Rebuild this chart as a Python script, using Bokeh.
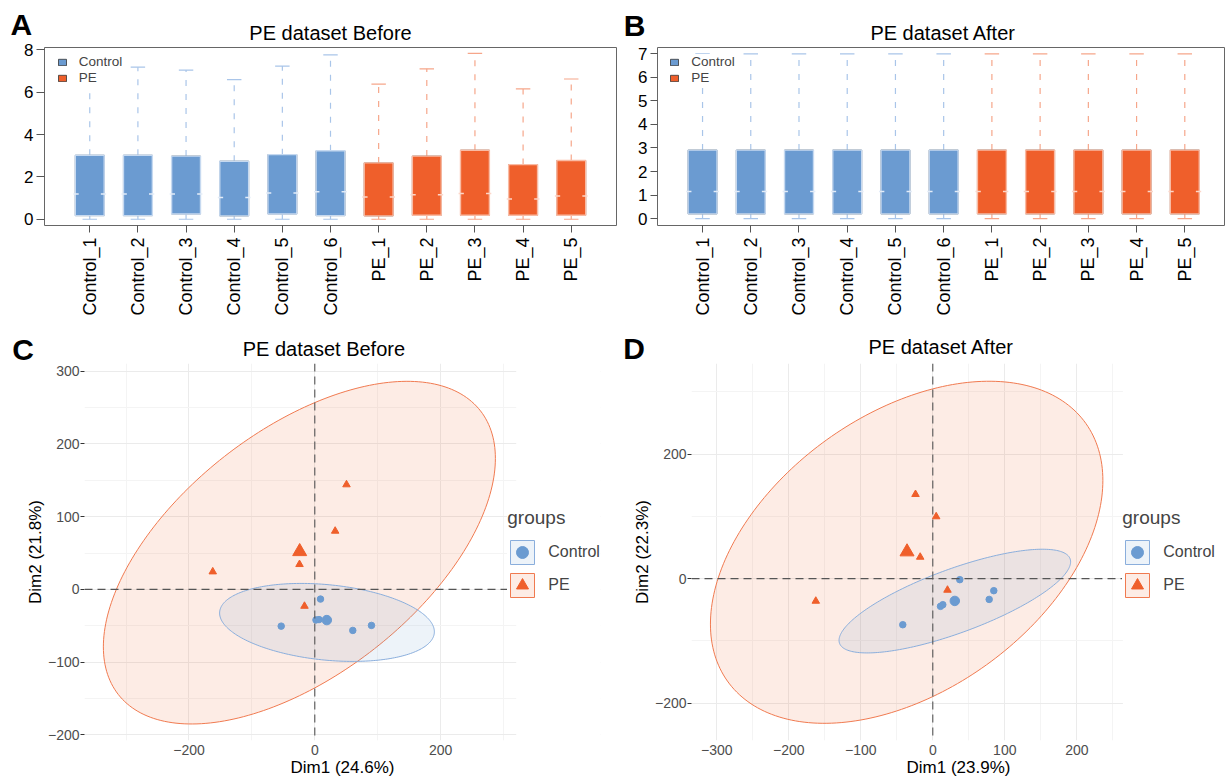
import numpy as np
from bokeh.plotting import figure
from bokeh.models import (Range1d, FixedTicker, Legend, LegendItem,
                          ColumnDataSource, Span, BoxAnnotation)
from bokeh.core.properties import value
from bokeh.layouts import column, row
from bokeh.embed import file_html
from bokeh.resources import INLINE

FONT = "Liberation Sans"
BLUE = "#6b9bd1"
ORANGE = "#ef5f2b"
BLUE_LINE = "#c6d9f0"
ORANGE_LINE = "#f9bba4"
BLUE_WHISK = "#a9c5e9"
ORANGE_WHISK = "#f6a68a"
BLUE_MED = "#e3ecf8"
ORANGE_MED = "#fcd6c8"

# ---------------- data ----------------
samples = ["Control_1", "Control_2", "Control_3", "Control_4", "Control_5", "Control_6",
           "PE_1", "PE_2", "PE_3", "PE_4", "PE_5"]
sample_groups = ["Control"] * 6 + ["PE"] * 5

before_lower = [0.0, 0.0, 0.0, 0.0, 0.0, 0.0, 0.0, 0.0, 0.0, 0.0, 0.0]
before_q1 = [0.17, 0.17, 0.25, 0.16, 0.25, 0.17, 0.16, 0.19, 0.19, 0.19, 0.19]
before_median = [1.19, 1.19, 1.19, 1.03, 1.24, 1.30, 1.05, 1.16, 1.22, 0.96, 1.10]
before_q3 = [3.02, 3.02, 2.98, 2.74, 3.05, 3.23, 2.66, 2.98, 3.26, 2.58, 2.77]
before_upper = [7.0, 7.18, 7.04, 6.59, 7.23, 7.76, 6.38, 7.10, 7.83, 6.15, 6.62]

after_lower = [0.0] * 11
after_q1 = [0.20] * 11
after_median = [1.15] * 11
after_q3 = [2.91] * 11
after_upper = [7.0] * 11

# PCA before
before_ctrl_x = [9.1, 1.9, 6.7, -53.4, 60.4, 90.1]
before_ctrl_y = [-13.3, -42.0, -41.5, -50.5, -56.4, -49.5]
before_pe_x = [50.4, 32.4, -24.3, -162.2, -16.4]
before_pe_y = [144.0, 80.2, 34.4, 24.3, -23.0]
# ellipse params: centre x, centre y, half extent x, half extent y, correlation
before_ctrl_ell = [19.4, -45.4, 170.7, 53.6, -0.24]
before_pe_ell = [-24.5, 50.5, 311.6, 235.5, 0.55]

# PCA after
after_ctrl_x = [37.5, 84.7, 78.3, 10.7, 13.9, -41.7]
after_ctrl_y = [-1.6, -19.3, -33.3, -44.5, -41.8, -74.0]
after_pe_x = [-24.0, 4.7, -17.5, -162.5, 20.4]
after_pe_y = [135.5, 99.7, 34.7, -36.0, -18.3]
after_ctrl_ell = [30.6, -36.0, 160.8, 83.3, 0.757]
after_pe_ell = [-36.3, 42.4, 272.5, 274.8, 0.42]

before_dims = ["Dim1 (24.6%)", "Dim2 (21.8%)"]
after_dims = ["Dim1 (23.9%)", "Dim2 (22.3%)"]
panel_letters = ["A", "B", "C", "D"]
panel_titles = ["PE dataset Before", "PE dataset After",
                "PE dataset Before", "PE dataset After"]

MID = 0.3465  # distance (in em) between text middle and alphabetic baseline


def header(width, height, letter, letter_pos, title, title_pos):
    """letter_pos / title_pos: (x, baseline height above the strip bottom) in px."""
    h = figure(width=width, height=height, x_range=Range1d(0, width),
               y_range=Range1d(0, height), min_border=0, x_axis_location=None,
               y_axis_location=None, title_location=None, output_backend="svg",
               toolbar_location=None)
    h.xgrid.visible = False
    h.ygrid.visible = False
    h.outline_line_color = None
    h.border_fill_alpha = 0.0
    h.background_fill_alpha = 0.0
    h.text(x=[letter_pos[0]], y=[letter_pos[1] + MID * 30], text=[letter],
           text_font=value(FONT), text_font_size="30px", text_font_style="bold",
           text_align="left", text_baseline="middle", text_color="black")
    h.text(x=[title_pos[0]], y=[title_pos[1] + MID * 20], text=[title],
           text_font=value(FONT), text_font_size="20px",
           text_align="center", text_baseline="middle", text_color="black")
    return h


def box_panel(width, height, xr, yr, borders, yticks, lower, q1, med, q3, upper,
              legend_pos, tick_out_y):
    bl, br, bt, bb = borders
    p = figure(width=width, height=height, x_range=Range1d(*xr), y_range=Range1d(*yr),
               min_border_left=bl, min_border_right=br, min_border_top=bt,
               min_border_bottom=bb, title_location=None, output_backend="svg",
               toolbar_location=None)
    p.xgrid.visible = False
    p.ygrid.visible = False
    p.outline_line_color = "#666666"
    p.outline_line_width = 1
    p.background_fill_color = "white"

    n = len(samples)
    xs = np.arange(1, n + 1, dtype=float)
    bw = 0.6
    cw = 0.3
    legend_items = []
    for g, fill, line, whisk, medc in [("Control", BLUE, BLUE_LINE, BLUE_WHISK, BLUE_MED),
                                        ("PE", ORANGE, ORANGE_LINE, ORANGE_WHISK, ORANGE_MED)]:
        idx = [i for i, s in enumerate(sample_groups) if s == g]
        gx = xs[idx]
        src = ColumnDataSource(dict(
            x=gx, lower=[lower[i] for i in idx], q1=[q1[i] for i in idx],
            med=[med[i] for i in idx], q3=[q3[i] for i in idx],
            upper=[upper[i] for i in idx],
            cap0=gx - cw / 2, cap1=gx + cw / 2,
            ml0=gx - bw / 2 - 0.04, ml1=gx - bw / 2 + 0.07,
            mr0=gx + bw / 2 - 0.07, mr1=gx + bw / 2 + 0.04,
        ))
        p.segment(x0="x", y0="q3", x1="x", y1="upper", source=src, line_color=whisk,
                  line_dash="6 8", line_width=1.2)
        p.segment(x0="x", y0="q1", x1="x", y1="lower", source=src, line_color=whisk,
                  line_dash="6 8", line_width=1.2)
        p.segment(x0="cap0", y0="upper", x1="cap1", y1="upper", source=src,
                  line_color=whisk, line_width=1.2)
        p.segment(x0="cap0", y0="lower", x1="cap1", y1="lower", source=src,
                  line_color=whisk, line_width=1.2)
        # dark-edged copy underneath: used as the legend key
        r_key = p.vbar(x="x", width=bw, bottom="q1", top="q3", source=src,
                       fill_color=fill, line_color="#333333", line_width=0.8)
        p.vbar(x="x", width=bw, bottom="q1", top="q3", source=src, fill_color=fill,
               line_color=line, line_width=1.4)
        p.segment(x0="ml0", y0="med", x1="ml1", y1="med", source=src,
                  line_color=medc, line_width=1.5)
        p.segment(x0="mr0", y0="med", x1="mr1", y1="med", source=src,
                  line_color=medc, line_width=1.5)
        legend_items.append(LegendItem(label=g, renderers=[r_key]))

    xa = p.xaxis[0]
    xa.ticker = FixedTicker(ticks=list(xs))
    xa.major_label_overrides = {float(i + 1): s for i, s in enumerate(samples)}
    xa.major_label_orientation = np.pi / 2
    xa.major_tick_out = 7
    xa.major_tick_in = 0
    xa.minor_tick_out = 0
    xa.minor_tick_in = 0
    xa.axis_line_color = None
    xa.major_tick_line_color = "#555555"
    xa.major_label_text_font = FONT
    xa.major_label_text_font_size = "18px"
    xa.major_label_text_color = "black"
    xa.major_label_standoff = 5

    ya = p.yaxis[0]
    ya.ticker = FixedTicker(ticks=yticks)
    ya.major_tick_out = tick_out_y
    ya.major_tick_in = 0
    ya.minor_tick_out = 0
    ya.minor_tick_in = 0
    ya.axis_line_color = None
    ya.major_tick_line_color = "#555555"
    ya.major_label_text_font = FONT
    ya.major_label_text_font_size = "17px"
    ya.major_label_text_color = "black"
    ya.major_label_standoff = 3

    leg = Legend(items=legend_items, location=legend_pos, glyph_width=10,
                 glyph_height=8, label_height=16, spacing=0, padding=0, margin=0,
                 label_standoff=12, border_line_color=None,
                 background_fill_color="white", background_fill_alpha=1.0,
                 label_text_font=FONT, label_text_font_size="13.5px")
    p.add_layout(leg)
    return p


def ellipse_xy(params):
    cx, cy, sx, sy, r = params
    t = np.linspace(0, 2 * np.pi, 241)
    x = cx + sx * np.cos(t)
    y = cy + sy * (r * np.cos(t) + np.sqrt(1 - r * r) * np.sin(t))
    return x, y


def minus(v):
    return f"{v:g}".replace("-", "\u2212")


def pca_panel(width, height, xr, panel_xmax, yr, borders, xmaj, xmin, ymaj, ymin,
              cx, cy, px, py, cell, pell, dims, legend_pos):
    bl, br, bt, bb = borders
    p = figure(width=width, height=height, x_range=Range1d(*xr), y_range=Range1d(*yr),
               min_border_left=bl, min_border_right=br, min_border_top=bt,
               min_border_bottom=bb, title_location=None, output_backend="svg",
               toolbar_location=None)
    p.outline_line_color = None
    p.background_fill_color = "white"

    for g in (p.xgrid[0], p.ygrid[0]):
        g.grid_line_color = "#ebebeb"
        g.grid_line_width = 1
        g.minor_grid_line_color = "#f4f4f4"
        g.minor_grid_line_width = 1

    ex, ey = ellipse_xy(pell)
    r_pe_ell = p.patch(ex, ey, fill_color=ORANGE, fill_alpha=0.12,
                       line_color="#f07a50", line_width=1)
    ex2, ey2 = ellipse_xy(cell)
    r_c_ell = p.patch(ex2, ey2, fill_color=BLUE, fill_alpha=0.12,
                      line_color="#8aaedc", line_width=1)

    p.add_layout(Span(location=0, dimension="width", line_color="#555555",
                      line_dash="8 5", line_width=1.1))
    p.add_layout(Span(location=0, dimension="height", line_color="#555555",
                      line_dash="8 5", line_width=1.1))

    r_c = p.scatter(cx, cy, marker="circle", size=6.5, fill_color=BLUE,
                    line_color=BLUE)
    p.scatter([float(np.mean(cx))], [float(np.mean(cy))], marker="circle", size=9.5,
              fill_color=BLUE, line_color=BLUE)
    r_p = p.scatter(px, py, marker="triangle", size=7.5, fill_color=ORANGE,
                    line_color=ORANGE)
    p.scatter([float(np.mean(px))], [float(np.mean(py))], marker="triangle",
              size=14, fill_color=ORANGE, line_color=ORANGE)

    # blank strip to the right of the panel area (where the legend sits)
    p.add_layout(BoxAnnotation(left=panel_xmax, fill_color="white", fill_alpha=1.0,
                               line_color=None))

    xa = p.xaxis[0]
    xa.ticker = FixedTicker(ticks=xmaj, minor_ticks=xmin)
    xa.major_label_overrides = {float(v): minus(v) for v in xmaj}
    xa.major_tick_out = 0
    xa.major_tick_in = 0
    xa.minor_tick_out = 0
    xa.minor_tick_in = 0
    xa.axis_line_color = None
    xa.major_label_standoff = 4
    xa.axis_label = dims[0]
    xa.axis_label_standoff = 0

    ya = p.yaxis[0]
    ya.ticker = FixedTicker(ticks=ymaj, minor_ticks=ymin)
    ya.major_label_overrides = {float(v): minus(v) for v in ymaj}
    ya.major_tick_out = 4
    ya.major_tick_in = 0
    ya.minor_tick_out = 0
    ya.minor_tick_in = 0
    ya.axis_line_color = None
    ya.major_tick_line_color = "#333333"
    ya.major_label_standoff = 1
    ya.axis_label = dims[1]
    ya.axis_label_standoff = 0

    for a in (xa, ya):
        a.major_label_text_font = FONT
        a.major_label_text_font_size = "14px"
        a.major_label_text_color = "#4d4d4d"
        a.axis_label_text_font = FONT
        a.axis_label_text_font_size = "17px"
        a.axis_label_text_font_style = "normal"
        a.axis_label_text_color = "black"

    leg = Legend(items=[LegendItem(label="Control", renderers=[r_c_ell, r_c]),
                        LegendItem(label="PE", renderers=[r_pe_ell, r_p])],
                 title="groups", location=legend_pos, glyph_width=30,
                 glyph_height=30, label_height=30, spacing=3, padding=0, margin=0,
                 label_standoff=11, title_standoff=8, border_line_color=None,
                 background_fill_color="white", background_fill_alpha=1.0,
                 label_text_font=FONT, label_text_font_size="16px",
                 title_text_font=FONT, title_text_font_size="19px",
                 title_text_font_style="normal")
    p.add_layout(leg)
    return p


# header strips (46 px and 36 px); the plot rows below overlap them by 6 px
hA = header(620, 46, panel_letters[0], (10, 11.7), panel_titles[0], (330, 7))
hB = header(605, 46, panel_letters[1], (3.3, 11), panel_titles[1], (322.7, 7))
pA = box_panel(620, 290, (0.06, 11.94), (-0.296, 8.108), (44, 4, 6, 105),
               [0, 2, 4, 6, 8], before_lower, before_q1, before_median, before_q3,
               before_upper, (12.7, 139.3), 8)
pB = box_panel(605, 290, (0.066, 11.844), (-0.294, 7.27), (37, 0, 7, 103),
               [0, 1, 2, 3, 4, 5, 6, 7], after_lower, after_q1, after_median,
               after_q3, after_upper, (12.3, 139.3), 7)
hC = header(620, 36, panel_letters[2], (11.7, 7), panel_titles[2], (323.4, 11))
hD = header(605, 36, panel_letters[3], (2.7, 7.7), panel_titles[3], (320.8, 12.7))
# x scale of C: 0.629 px/unit, panel area ends at 320.2; frame continues to 600 px
pC = pca_panel(620, 422, (-366.1, 454.2), 320.2, (-207.7, 310.5), (84, 20, 3, 42),
               [-200, 0, 200], [-300, -100, 100, 300],
               [-200, -100, 0, 100, 200, 300], [-150, -50, 50, 150, 250],
               before_ctrl_x, before_ctrl_y, before_pe_x, before_pe_y,
               before_ctrl_ell, before_pe_ell, before_dims, (423.3, 140.5))
# x scale of D: 0.72 px/unit, panel area ends at 264; frame continues to 1225 px
pD = pca_panel(605, 422, (-335.1, 406.5), 264.0, (-260.0, 345.7), (71, 0, 3, 42),
               [-300, -200, -100, 0, 100, 200], [-250, -150, -50, 50, 150, 250],
               [-200, 0, 200], [-100, 100, 300],
               after_ctrl_x, after_ctrl_y, after_pe_x, after_pe_y,
               after_ctrl_ell, after_pe_ell, after_dims, (431.3, 140.5))

for p in (pA, pB, pC, pD):
    p.border_fill_alpha = 0.0

layout = column(row(hA, hB), row(pA, pB, margin=(-6, 0, 0, 0)),
                row(hC, hD), row(pC, pD, margin=(-6, 0, 0, 0)))
open("out.html", "w").write(file_html(layout, INLINE))
